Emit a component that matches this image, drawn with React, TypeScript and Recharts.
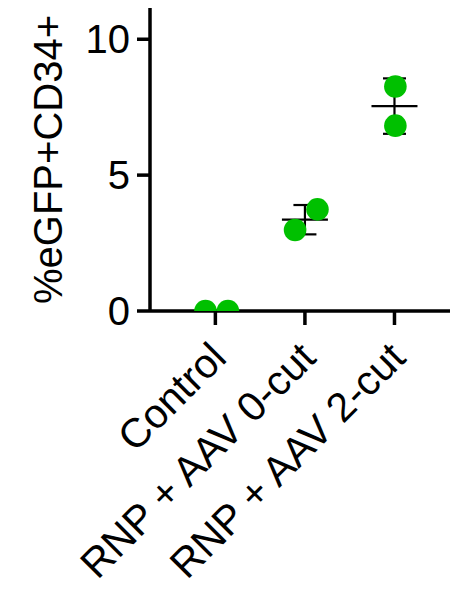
import React from "react";
import { ComposedChart, Scatter, Line, XAxis, YAxis } from "recharts";

// ---- data ----
const categories = ["Control", "RNP + AAV 0-cut", "RNP + AAV 2-cut"];
const pointGroup = [0, 0, 1, 1, 2, 2];
const pointJitter = [-0.11, 0.14, -0.11, 0.14, 0.01, 0.01];
const pointValues = [0, 0, 2.98, 3.74, 8.26, 6.82];
const groupMeans = [0, 3.36, 7.54];
const groupSD = [0, 0.54, 1.02];
const yTicks = [0, 5, 10];
const yLabel = "%eGFP+CD34+";

const GREEN = "#00C000";
const FONT = "'Liberation Sans', Arial, Helvetica, sans-serif";

const points = pointValues.map((v, i) => ({ x: pointGroup[i] + pointJitter[i], y: v }));
const means = groupMeans.map((m, i) => ({ x: i, y: m }));
const caps = groupMeans.flatMap((m, i) => [
  { x: i, y: m + groupSD[i] },
  { x: i, y: m - groupSD[i] },
]);
// whiskers: pairs of (high, low) separated by null gaps
const whiskers = groupMeans.flatMap((m, i) => [
  { x: i, y: m + groupSD[i] },
  { x: i, y: m - groupSD[i] },
  { x: i + 0.5, y: null },
]);

const MeanLine = (props: any) => {
  const { cx, cy } = props;
  if (cx == null || cy == null) return null;
  return <line x1={cx - 23} x2={cx + 23} y1={cy} y2={cy} stroke="#000" strokeWidth={2.2} />;
};

const Cap = (props: any) => {
  const { cx, cy } = props;
  if (cx == null || cy == null) return null;
  return <line x1={cx - 11.5} x2={cx + 11.5} y1={cy} y2={cy} stroke="#000" strokeWidth={2.2} />;
};

const Dot = (props: any) => {
  const { cx, cy } = props;
  if (cx == null || cy == null) return null;
  return <circle cx={cx} cy={cy} r={11.3} fill={GREEN} />;
};

const XTick = (props: any) => {
  const { x, y, payload } = props;
  return (
    <text
      x={0}
      y={0}
      textAnchor="end"
      fontSize={41}
      fontFamily={FONT}
      fill="#000"
      transform={`translate(${x + 13},${y + 35}) rotate(-45)`}
    >
      {categories[payload.value]}
    </text>
  );
};

const YLabel = (props: any) => {
  const vb = props.viewBox || { x: 0, y: 8, width: 150, height: 303 };
  const cy = vb.y + vb.height / 2;
  const cx = 62;
  return (
    <text
      x={cx}
      y={cy}
      textAnchor="middle"
      fontSize={40}
      fontFamily={FONT}
      fill="#000"
      transform={`rotate(-90, ${cx}, ${cy})`}
    >
      {yLabel}
    </text>
  );
};

export default function App() {
  return (
    <div style={{ position: "absolute", left: 0, top: 0, width: 452, height: 590, background: "#fff" }}>
      <ComposedChart width={452} height={590} margin={{ top: 8, right: 2, left: 0, bottom: 0 }}>
        <XAxis
          type="number"
          dataKey="x"
          domain={[-0.73, 2.62]}
          ticks={[0, 1, 2]}
          allowDataOverflow
          height={279}
          tickSize={14}
          tickMargin={0}
          axisLine={{ stroke: "#000", strokeWidth: 3.5 }}
          tickLine={{ stroke: "#000", strokeWidth: 3.5 }}
          tick={<XTick />}
          interval={0}
        />
        <YAxis
          type="number"
          dataKey="y"
          domain={[0, 11.15]}
          ticks={yTicks}
          allowDataOverflow
          width={150}
          tickSize={13}
          tickMargin={7}
          axisLine={{ stroke: "#000", strokeWidth: 3.5 }}
          tickLine={{ stroke: "#000", strokeWidth: 3.5 }}
          tick={{ fill: "#000", fontSize: 40, fontFamily: FONT }}
          label={<YLabel />}
        />
        <Line
          data={whiskers}
          dataKey="y"
          stroke="#000"
          strokeWidth={2.2}
          dot={false}
          activeDot={false}
          connectNulls={false}
          isAnimationActive={false}
        />
        <Scatter data={caps} shape={<Cap />} isAnimationActive={false} />
        <Scatter data={means} shape={<MeanLine />} isAnimationActive={false} />
        <Scatter data={points} shape={<Dot />} isAnimationActive={false} />
      </ComposedChart>
    </div>
  );
}
